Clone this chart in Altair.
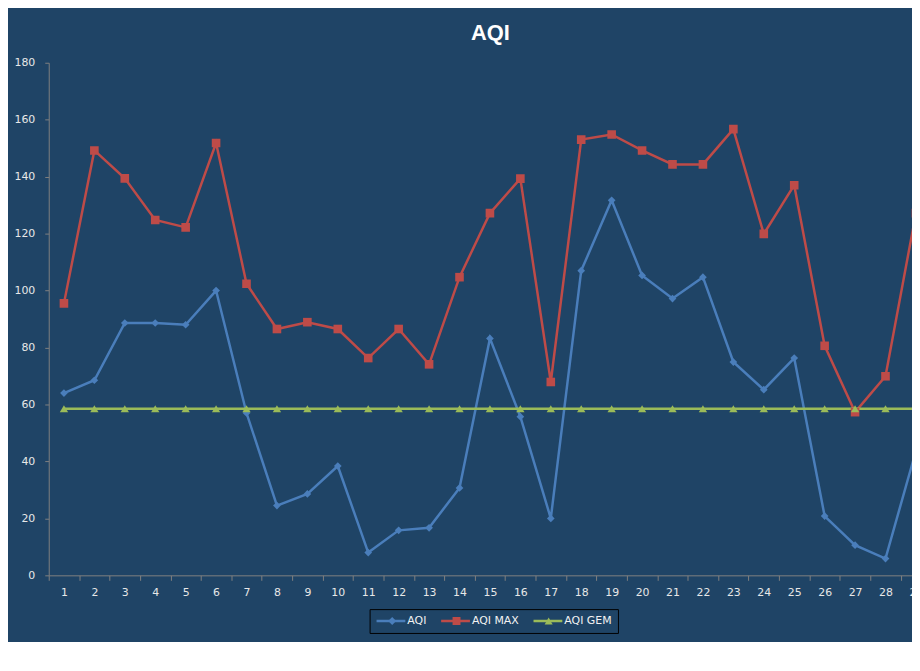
import altair as alt
import pandas as pd

# day number on the x axis
days = list(range(1, 30))

aqi = [64, 68.5, 88.6, 88.6, 88, 100, 57, 24.5, 28.6, 38.4, 8, 15.8, 16.7, 30.7, 83.2,
       55.7, 20, 107, 131.7, 105.3, 97.2, 104.7, 74.9, 65.2, 76.3, 20.8, 10.6, 5.9, 43.7]
aqi_max = [95.5, 149.2, 139.4, 124.8, 122.2, 151.8, 102.4, 86.5, 88.9, 86.5, 76.3, 86.5, 74.1, 104.7, 127.2,
           139.3, 67.9, 153, 154.8, 149.2, 144.3, 144.3, 156.7, 119.9, 137, 80.6, 57.3, 69.9, 127.2]
aqi_gem = [58.5] * 29

series_names = ["AQI", "AQI MAX", "AQI GEM"]
series_colors = ["#4A7EBB", "#BE4B48", "#9BBB59"]
marker_shapes = ["diamond", "square", "triangle-up"]
marker_sizes = [60, 75, 70]
# x of each marker inside the legend box (over the middle of its legend line)
marker_legend_x = [334.75, 399.5, 492.25]

df = pd.concat([
    pd.DataFrame({"day": days, "series": name, "value": vals})
    for name, vals in zip(series_names, [aqi, aqi_max, aqi_gem])
])

bg = "#1F4466"
step = 30.63
plot_w = 869
plot_h = 516

x = alt.X("day:Q", title=None,
          scale=alt.Scale(domain=[0.5, 0.5 + plot_w / step], nice=False, zero=False),
          axis=alt.Axis(values=[d - 0.5 for d in days], labelExpr="'' + (datum.value + 0.5)",
                        labelOffset=step / 2, labelFlush=False, labelOverlap=False,
                        tickSize=5, labelPadding=6, grid=False))
y = alt.Y("value:Q", title=None,
          scale=alt.Scale(domain=[0, 180], nice=False),
          axis=alt.Axis(values=list(range(0, 181, 20)), tickSize=4, labelPadding=10, grid=False))

# legend of the lines (with the box and the labels)
line_legend = alt.Legend(title=None, orient="none", legendX=323, legendY=550, direction="horizontal",
                         symbolType="stroke", symbolSize=841, symbolStrokeWidth=2.5, clipHeight=13,
                         labelOffset=0.5, columnPadding=13, padding=5.5, strokeColor="#000000",
                         labelColor="#F2F2F2", labelFont="DejaVu Sans", labelFontSize=11)

lines = alt.Chart(df).mark_line(strokeWidth=2.5, clip=True).encode(
    x=x, y=y,
    stroke=alt.Stroke("series:N", sort=series_names,
                      scale=alt.Scale(range=series_colors), legend=line_legend),
    detail="series:N"
)

# one marker layer per series, each with its own shape and a one-entry legend
# that puts the marker on top of its line in the legend box
marker_layers = []
for name, col, shp, sz, lx in zip(series_names, series_colors, marker_shapes, marker_sizes, marker_legend_x):
    mleg = alt.Legend(title=None, orient="none", legendX=lx, legendY=550, direction="horizontal",
                      symbolType=shp, symbolSize=64, symbolStrokeWidth=0, symbolOpacity=1,
                      clipHeight=13, padding=5.5, labelOffset=2, labelExpr="' '",
                      labelFont="DejaVu Sans", labelFontSize=11)
    marker_layers.append(
        alt.Chart(df).transform_filter(alt.datum.series == name)
        .mark_point(filled=True, opacity=1, shape=shp, size=sz, clip=True)
        .encode(x=x, y=y,
                fill=alt.Fill("series:N", scale=alt.Scale(domain=[name], range=[col]), legend=mleg))
    )

chart = alt.layer(lines, *marker_layers).resolve_scale(
    fill="independent"
).properties(
    width=plot_w,
    height=plot_h,
    autosize=alt.AutoSizeParams(type="none"),
    padding={"left": 41, "top": 53, "right": 0, "bottom": 65},
    background=bg,
    title=alt.TitleParams("AQI", font="Liberation Sans", fontSize=22, fontWeight="bold",
                          color="#FFFFFF", frame="group", anchor="middle", dx=10, dy=26,
                          baseline="alphabetic", offset=21),
).configure_view(
    stroke=None
).configure_axis(
    domainColor="#808080", tickColor="#808080", domainWidth=1, tickWidth=1,
    labelColor="#E8E8E8", labelFont="DejaVu Sans", labelFontSize=11
)

chart.save("out.html", embed_options={"renderer": "svg", "actions": False})
